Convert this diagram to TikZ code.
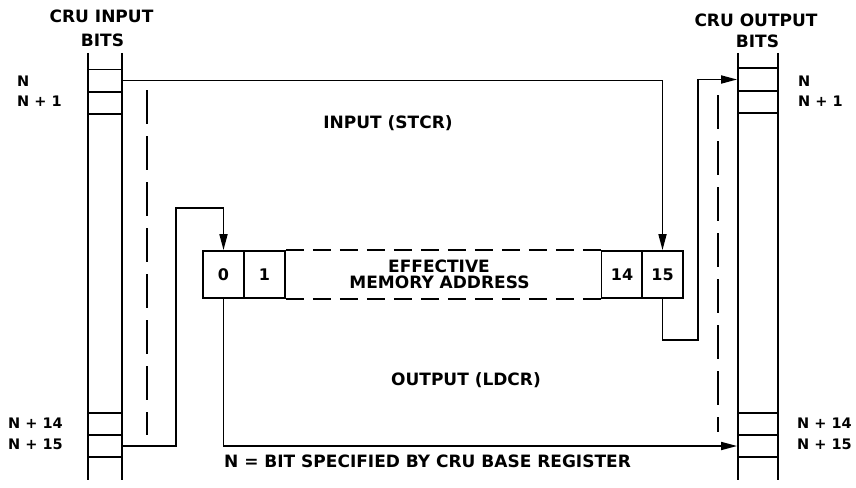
\documentclass[tikz,border=0pt]{standalone}
\usepackage{fontspec}
\setmainfont{DejaVu Sans}
\usetikzlibrary{arrows.meta}
\begin{document}
\begin{tikzpicture}[x=1pt,y=-1pt,
  big/.style={font=\fontsize{17}{20}\selectfont\bfseries, inner sep=0pt},
  small/.style={font=\fontsize{14.5}{17}\selectfont\bfseries, inner sep=0pt},
  cell/.style={draw, line width=1.8pt, minimum height=22pt, inner sep=0pt},
  reg/.style={draw, line width=1.8pt, minimum width=41pt, minimum height=47pt, inner sep=0pt, font=\fontsize{16}{19}\selectfont\bfseries},
  conn/.style={line width=1.7pt},
  arr/.style={conn, -{Triangle[length=16pt,width=8pt]}},
  dashv/.style={line width=1.4pt, dash pattern=on 34pt off 12pt},
  dashh/.style={line width=1.4pt, dash pattern=on 18pt off 9pt},
  col/.style={line width=2pt}
]
\useasboundingbox (0,0) rectangle (856,487);

% columns
\draw[col] (87.5,53) -- (87.5,480);
\draw[col] (122,53) -- (122,480);
\draw[col] (738,53) -- (738,480);
\draw[col] (778,53) -- (778,480);

% cells
\node[cell, minimum width=34.5pt] (inN) at (104.75,80.5) {};
\node[cell, minimum width=34.5pt] (inN1) at (104.75,103) {};
\node[cell, minimum width=34.5pt] (inN14) at (104.75,424) {};
\node[cell, minimum width=34.5pt] (inN15) at (104.75,446) {};
\node[cell, minimum width=40pt, minimum height=23pt] (outN) at (758,79.5) {};
\node[cell, minimum width=40pt] (outN1) at (758,102) {};
\node[cell, minimum width=40pt] (outN14) at (758,424) {};
\node[cell, minimum width=40pt] (outN15) at (758,446) {};

% register boxes
\node[reg] (box0) at (223.5,274.5) {0};
\node[reg] (box1) at (264.5,274.5) {1};
\node[reg] (box14) at (622,274.5) {14};
\node[reg] (box15) at (662.5,274.5) {15};

% dashed register body
\draw[dashh] (box1.north east) -- (box14.north west);
\draw[dashh] (box1.south east) -- (box14.south west);

% dashed verticals
\coordinate (dl1) at (147,90);
\coordinate (dl2) at (147,435);
\coordinate (dr1) at (718,95);
\coordinate (dr2) at (718,432);
\draw[dashv] (dl1) -- (dl2);
\draw[dashv] (dr1) -- (dr2);

% connectors
\coordinate (l1) at (176,208);
\coordinate (r1) at (698,340);
\draw[arr] (inN.east) -- (inN.east -| box15.north) -- (box15.north);
\draw[arr] (inN15.east) -| (l1) -| (box0.north);
\draw[arr] (box0.south) |- (outN15.west);
\draw[arr] (box15.south) |- (r1) |- (outN.west);

% headings
\node[big, anchor=base] (tin1) at (101.5,23) {CRU INPUT};
\node[big, anchor=base] (tin2) at (102.5,47) {BITS};
\node[big, anchor=base] (tout1) at (756,27) {CRU OUTPUT};
\node[big, anchor=base] (tout2) at (757.5,48) {BITS};

% side labels
\node[small, anchor=base west] (lN) at (17,86) {N};
\node[small, anchor=base west] (lN1) at (17,106) {N + 1};
\node[small, anchor=base west] (lN14) at (8,428) {N + 14};
\node[small, anchor=base west] (lN15) at (8,449) {N + 15};
\node[small, anchor=base west] (rN) at (798,86) {N};
\node[small, anchor=base west] (rN1) at (798,106) {N + 1};
\node[small, anchor=base west] (rN14) at (797,428) {N + 14};
\node[small, anchor=base west] (rN15) at (797,449) {N + 15};

% centre texts
\node[big, anchor=base] (tinput) at (388,128) {INPUT (STCR)};
\node[big, anchor=base] (teff) at (439,272) {EFFECTIVE};
\node[big, anchor=base] (tmem) at (439.5,288) {MEMORY ADDRESS};
\node[big, anchor=base] (toutput) at (466,385) {OUTPUT (LDCR)};
\node[big, anchor=base] (tnote) at (427.5,467) {N = BIT SPECIFIED BY CRU BASE REGISTER};
\end{tikzpicture}
\end{document}
